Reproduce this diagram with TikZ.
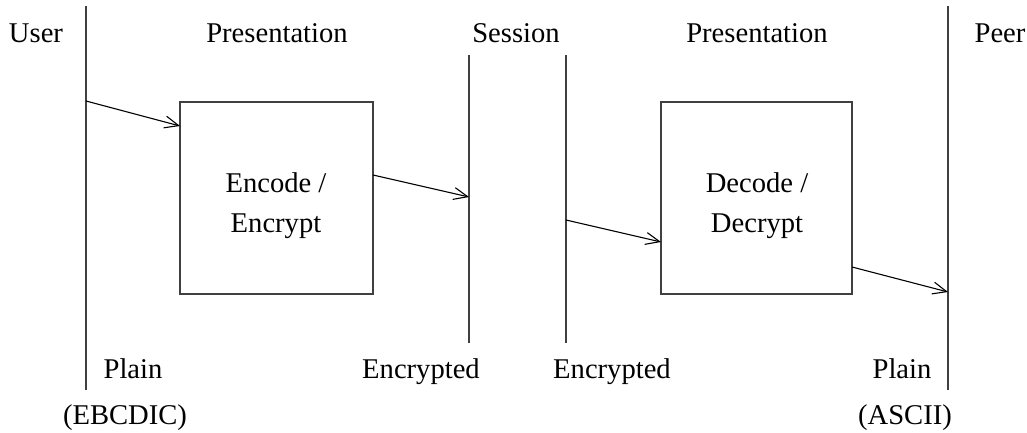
\documentclass[tikz,border=0pt]{standalone}
\usepackage{fontspec}
\setmainfont{Liberation Serif}
\usetikzlibrary{arrows.meta}
\begin{document}
\begin{tikzpicture}[x=1pt,y=-1pt,
  lbl/.style={anchor=base,inner sep=0pt,font=\fontsize{28.6}{33}\selectfont},
  bar/.style={draw=black!75,line width=1.3pt},
  boxx/.style={draw=black!75,line width=1.3pt},
  flow/.style={draw=black,line width=1.1pt,-{Straight Barb[length=14pt,width=12pt,line width=1.1pt]}}]
\useasboundingbox (0,0) rectangle (1027,433);
% vertical layer boundaries
\coordinate (u1) at (86,6);   \coordinate (u2) at (86,390);
\coordinate (s1) at (469,55); \coordinate (s2) at (469,343);
\coordinate (t1) at (566,55); \coordinate (t2) at (566,343);
\coordinate (p1) at (948,6);  \coordinate (p2) at (948,390);
\draw[bar] (u1) -- (u2);
\draw[bar] (s1) -- (s2);
\draw[bar] (t1) -- (t2);
\draw[bar] (p1) -- (p2);
% boxes
\draw[boxx] (180,102) rectangle (373,294);
\draw[boxx] (661,102) rectangle (852,294);
% arrow endpoints
\coordinate (a1s) at (86,101);  \coordinate (a1e) at (180,126);
\coordinate (a2s) at (373,175); \coordinate (a2e) at (469,197);
\coordinate (a3s) at (566,220); \coordinate (a3e) at (661,242);
\coordinate (a4s) at (852,267); \coordinate (a4e) at (948,292);
\draw[flow] (a1s) -- (a1e);
\draw[flow] (a2s) -- (a2e);
\draw[flow] (a3s) -- (a3e);
\draw[flow] (a4s) -- (a4e);
% labels
\node[lbl] (user) at (36,43) {User};
\node[lbl] (pres1) at (277,43) {Presentation};
\node[lbl] (sess) at (516,43) {Session};
\node[lbl] (pres2) at (757,43) {Presentation};
\node[lbl] (peer) at (1000,43) {Peer};
\node[lbl] (enc1) at (276,192) {Encode /};
\node[lbl] (enc2) at (276,232) {Encrypt};
\node[lbl] (dec1) at (757,192) {Decode /};
\node[lbl] (dec2) at (757,232) {Decrypt};
\node[lbl] (plain1) at (133,378) {Plain};
\node[lbl] (encr1) at (421,378) {Encrypted};
\node[lbl] (encr2) at (612,378) {Encrypted};
\node[lbl] (plain2) at (902,378) {Plain};
\node[lbl] (ebc) at (125,424) {(EBCDIC)};
\node[lbl] (asc) at (905,424) {(ASCII)};
\end{tikzpicture}
\end{document}
